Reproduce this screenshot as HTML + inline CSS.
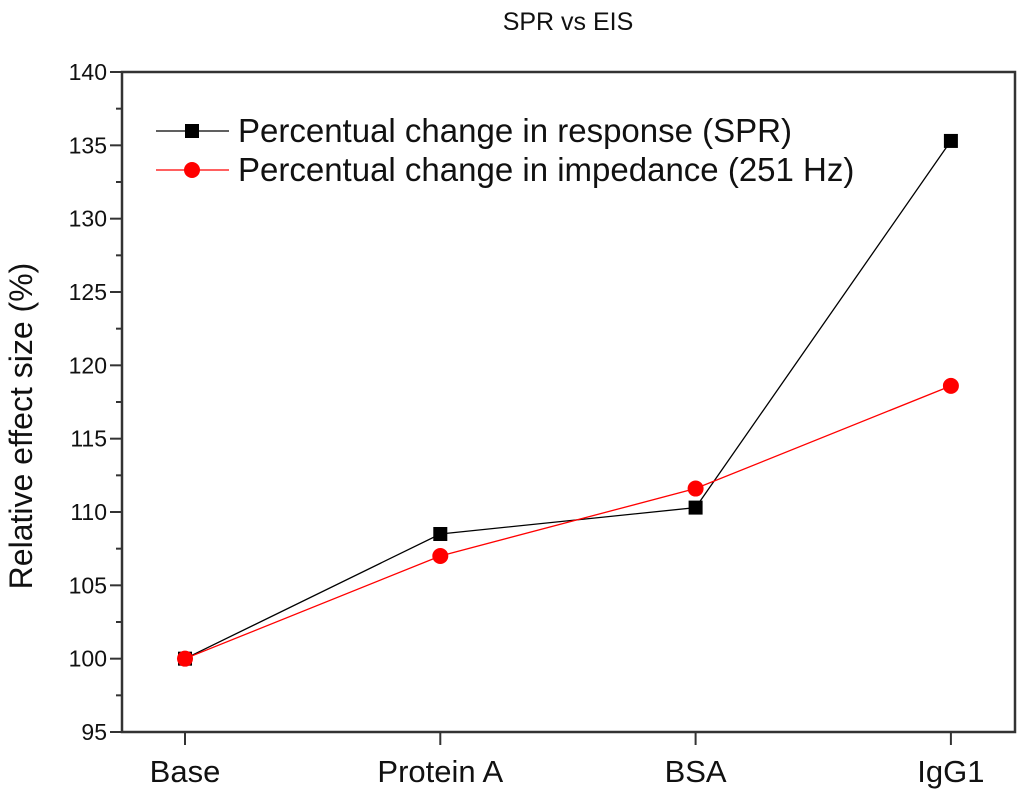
<!DOCTYPE html>
<html><head><meta charset="utf-8"><style>body{margin:0;background:#fff}svg{display:block;font-family:"Liberation Sans",sans-serif}</style></head>
<body>
<svg id="c" width="1024" height="800"></svg>
<script>
const categories=["Base","Protein A","BSA","IgG1"];
const sprValues=[100,108.5,110.3,135.3];
const eisValues=[100,107,111.6,118.6];
const yTicks=[95,100,105,110,115,120,125,130,135,140];
const NS="http://www.w3.org/2000/svg";
const svg=document.getElementById('c');
const L=122,R=1015,T=72,B=732;
const y=v=>B-(v-95)/(140-95)*(B-T);
const x=i=>185+i*255.3;
function el(t,a,p){const e=document.createElementNS(NS,t);for(const k in a)e.setAttribute(k,a[k]);(p||svg).appendChild(e);return e;}
function tx(s,a){const e=el('text',a);e.textContent=s;return e;}
const title=tx("SPR vs EIS",{x:568,y:30,'font-size':25,'text-anchor':'middle',fill:'#111'});


const frame=el('rect',{x:L,y:T,width:R-L,height:B-T,fill:'none',stroke:'#333','stroke-width':2.5});


yTicks.forEach((v,i)=>{
  el('line',{x1:L-12,x2:L,y1:y(v),y2:y(v),stroke:'#333','stroke-width':2});
  if(i<yTicks.length-1)el('line',{x1:L-6,x2:L,y1:y(v+2.5),y2:y(v+2.5),stroke:'#333','stroke-width':2});
  const t=tx(String(v),{x:L-15,y:y(v)+8,'font-size':23,'text-anchor':'end',fill:'#111'});
  
  
});
categories.forEach((c,i)=>{
  el('line',{x1:x(i),x2:x(i),y1:B,y2:B+13,stroke:'#333','stroke-width':2});
  const t=tx(c,{x:x(i),y:B+50,'font-size':31,'text-anchor':'middle',fill:'#111'});
  
  
});
const yt=tx("Relative effect size (%)",{x:0,y:0,'font-size':32,'text-anchor':'middle',fill:'#111',transform:`translate(32,${(T+B)/2+24}) rotate(-90)`});


function series(vals,color,shape,name){
  const p=el('polyline',{points:vals.map((v,i)=>x(i)+','+y(v)).join(' '),fill:'none',stroke:color,'stroke-width':1.3});
  
  
  vals.forEach((v,i)=>{
    let m;
    if(shape==='sq')m=el('rect',{x:x(i)-7,y:y(v)-7,width:14,height:14,fill:color});
    else m=el('circle',{cx:x(i),cy:y(v),r:8,fill:color});
    
    
  });
}
series(sprValues,'#000','sq','spr');
series(eisValues,'#f00','ci','eis');
function legend(yy,color,shape,label,name){
  const g=el('g',{});
  
  
  el('line',{x1:156,x2:229,y1:yy,y2:yy,stroke:color,'stroke-width':1.3},g);
  if(shape==='sq')el('rect',{x:185,y:yy-7,width:14,height:14,fill:color},g);else el('circle',{cx:192,cy:yy,r:8,fill:color},g);
  const t=el('text',{x:238,y:yy+11,'font-size':33,fill:'#111'},g);t.textContent=label;
}
legend(131,'#000','sq','Percentual change in response (SPR)','legend-entry-spr');
legend(170,'#f00','ci','Percentual change in impedance (251 Hz)','legend-entry-eis');
</script>
</body></html>
